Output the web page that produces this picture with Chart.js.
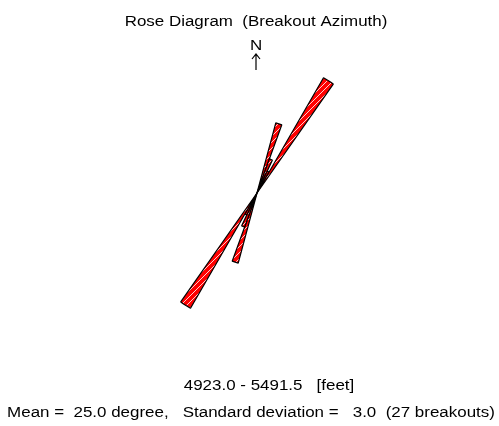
<!DOCTYPE html>
<html>
<head>
<meta charset="utf-8">
<script src="https://cdn.jsdelivr.net/npm/chart.js@4"></script>
<style>
  html, body { margin: 0; padding: 0; background: #fff; }
  #wrap { width: 499px; height: 426px; }
</style>
</head>
<body>
<div id="wrap"><canvas id="rose" width="499" height="426"></canvas></div>
<script>
// 5 degree azimuth bins (start angle, clockwise from north) and breakout counts
const binStarts = [0, 5, 10, 15, 20, 25, 30, 35, 40, 45, 50, 55, 60, 65, 70, 75, 80, 85,
  90, 95, 100, 105, 110, 115, 120, 125, 130, 135, 140, 145, 150, 155, 160, 165, 170, 175];
const binCounts = [0, 0, 0, 6, 3, 2, 11, 0, 0, 0, 0, 0, 0, 0, 0, 0, 0, 0,
  0, 0, 0, 0, 0, 0, 0, 0, 0, 0, 0, 0, 0, 0, 0, 0, 0, 0];

const titleText = "Rose Diagram  (Breakout Azimuth)";
const depthText = "4923.0 - 5491.5   [feet]";
const statsText = "Mean =  25.0 degree,   Standard deviation =   3.0  (27 breakouts)";

// breakouts are bidirectional: mirror the half circle onto the other side
const labels = [...binStarts, ...binStarts.map((a) => a + 180)].map((a) => a + "°");
const values = [...binCounts, ...binCounts];

// red fill with white hatch
function hatch() {
  const c = document.createElement("canvas");
  c.width = 6;
  c.height = 6;
  const g = c.getContext("2d");
  g.fillStyle = "#ff0000";
  g.fillRect(0, 0, 6, 6);
  g.strokeStyle = "rgba(255,255,255,0.8)";
  g.lineWidth = 1;
  g.beginPath();
  g.moveTo(-1, 7);
  g.lineTo(7, -1);
  g.stroke();
  return g.createPattern(c, "repeat");
}

// wide, slightly stretched lettering like the original plot
function wideText(ctx, text, x, y) {
  ctx.save();
  ctx.translate(x, y);
  ctx.scale(1.21, 1);
  ctx.fillText(text, 0, 0);
  ctx.restore();
}

const textPlugin = {
  id: "roseText",
  afterDraw(chart) {
    const ctx = chart.ctx;
    ctx.save();
    ctx.fillStyle = "#000";
    ctx.textAlign = "center";
    ctx.textBaseline = "middle";
    ctx.font = "14px 'Liberation Sans', Arial, sans-serif";
    wideText(ctx, titleText, 256, 22);
    wideText(ctx, "N", 256, 46);
    // north arrow
    ctx.strokeStyle = "#000";
    ctx.lineWidth = 1.2;
    ctx.beginPath();
    ctx.moveTo(256, 70);
    ctx.lineTo(256, 54);
    ctx.moveTo(252, 59);
    ctx.lineTo(256, 54);
    ctx.lineTo(260, 59);
    ctx.stroke();
    wideText(ctx, depthText, 269, 386);
    wideText(ctx, statsText, 251, 413);
    ctx.restore();
  },
};

new Chart(document.getElementById("rose"), {
  type: "polarArea",
  data: {
    labels: labels,
    datasets: [{
      label: "Breakouts",
      data: values,
      backgroundColor: hatch(),
      borderColor: "#000",
      borderWidth: 1.2,
    }],
  },
  options: {
    responsive: false,
    animation: false,
    startAngle: 0,
    layout: { padding: { left: 124, right: 109, top: 60, bottom: 100 } },
    scales: {
      r: { display: false, min: 0, max: 11 },
    },
    plugins: {
      legend: { display: false },
      title: { display: false },
    },
  },
  plugins: [textPlugin],
});
</script>
</body>
</html>
